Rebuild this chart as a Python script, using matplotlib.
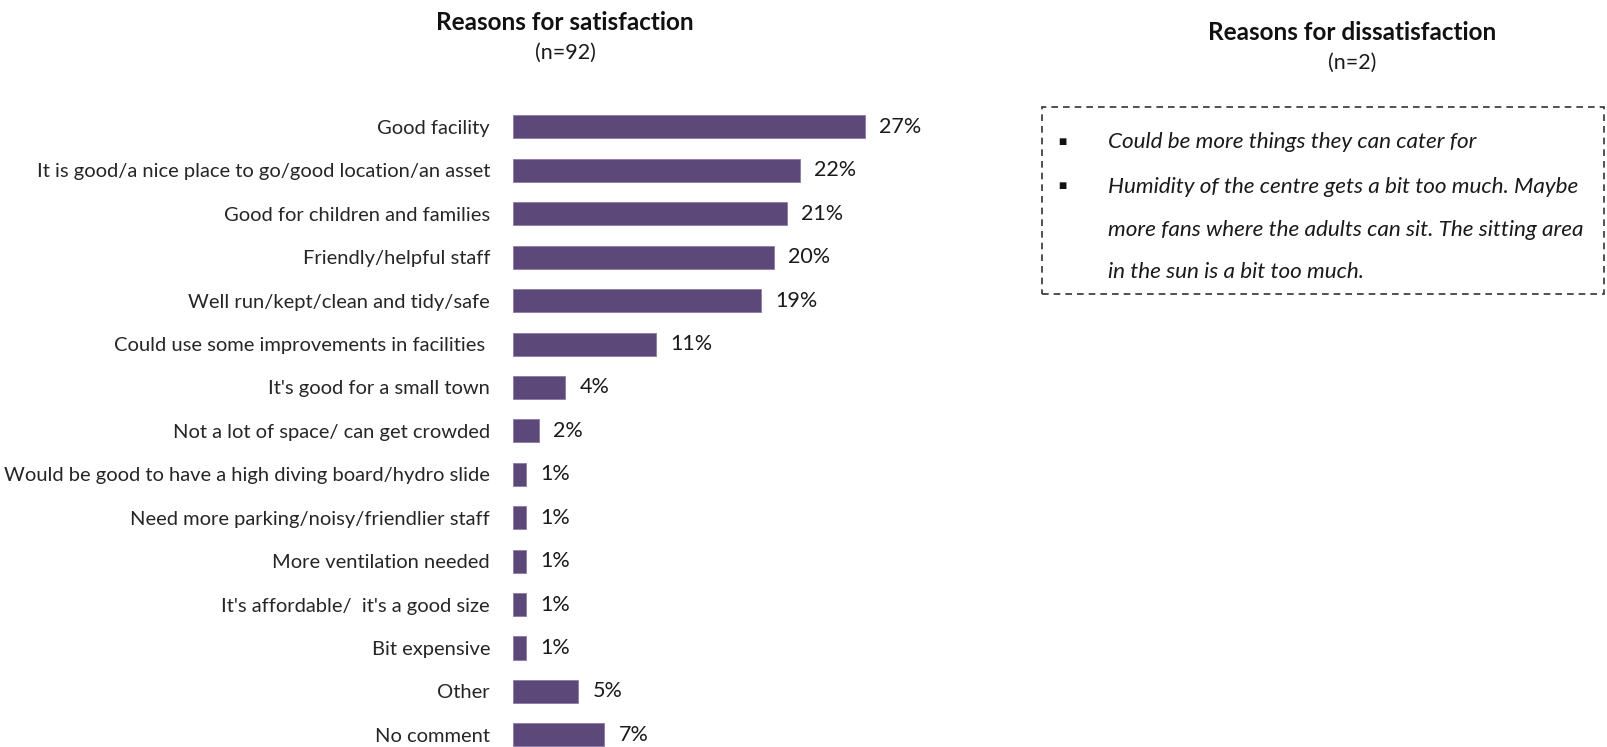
import matplotlib.pyplot as plt
from matplotlib.patches import Rectangle

plt.rcParams['font.family'] = ['Lato', 'DejaVu Sans']

# Reasons for satisfaction (n=92), % of respondents
reasons = [
    'Good facility',
    'It is good/a nice place to go/good location/an asset',
    'Good for children and families',
    'Friendly/helpful staff',
    'Well run/kept/clean and tidy/safe',
    'Could use some improvements in facilities ',
    "It's good for a small town",
    'Not a lot of space/ can get crowded',
    'Would be good to have a high diving board/hydro slide',
    'Need more parking/noisy/friendlier staff',
    'More ventilation needed',
    "It's affordable/  it's a good size",
    'Bit expensive',
    'Other',
    'No comment',
]
percent = [27, 22, 21, 20, 19, 11, 4, 2, 1, 1, 1, 1, 1, 5, 7]

# Verbatim reasons for dissatisfaction (n=2), already wrapped into lines
dissatisfaction_lines = [
    ('Could be more things they can cater for', True),
    ('Humidity of the centre gets a bit too much. Maybe', True),
    ('more fans where the adults can sit. The sitting area', False),
    ('in the sun is a bit too much.', False),
]

BAR_COLOR = '#5d4979'
W, H = 1608, 747

fig = plt.figure(figsize=(W / 100, H / 100), dpi=100)

# bar chart panel
ax = fig.add_axes([513 / W, 0, 391 / W, 647 / H])
y = list(range(len(reasons)))
ax.barh(y, percent, height=0.53, color=BAR_COLOR, edgecolor='#8c7aa6', linewidth=0.6)
ax.set_xlim(0, 30)
ax.set_ylim(14.28, -0.62)
ax.set_yticks(y)
ax.set_yticklabels(reasons, fontsize=14.5, color='#262626')
ax.tick_params(axis='y', length=0, pad=16.5)
ax.set_xticks([])
for side in ax.spines.values():
    side.set_visible(False)
for yi, v in zip(y, percent):
    ax.text(v + 1.1, yi, f'{v}%', va='center', ha='left', fontsize=15.5, color='#1a1a1a')

fig.text(565 / W, 1 - 22 / H, 'Reasons for satisfaction', ha='center', va='center',
         fontsize=17.5, fontweight='bold', color='#111111')
fig.text(565 / W, 1 - 53 / H, '(n=92)', ha='center', va='center', fontsize=15.5, color='#1a1a1a')

# dissatisfaction panel
fig.text(1352 / W, 1 - 33 / H, 'Reasons for dissatisfaction', ha='center', va='center',
         fontsize=17.5, fontweight='bold', color='#111111')
fig.text(1352 / W, 1 - 63 / H, '(n=2)', ha='center', va='center', fontsize=15.5, color='#1a1a1a')

box = Rectangle((1042 / W, 1 - 294 / H), (1604 - 1042) / W, (294 - 107) / H,
                transform=fig.transFigure, fill=False, edgecolor='#333333',
                linestyle=(0, (4, 3)), linewidth=1.2)
fig.patches.append(box)

line_y = [142.5, 186.6, 229.7, 271.8]
for (line, bullet), ly in zip(dissatisfaction_lines, line_y):
    if bullet:
        fig.text(1062 / W, 1 - ly / H, '\u25aa', ha='center', va='center', fontsize=18, color='#111111')
    fig.text(1108 / W, 1 - ly / H, line, ha='left', va='center', fontsize=16.2,
             style='italic', color='#1a1a1a')

fig.savefig('out.png', dpi=100, facecolor='white')
